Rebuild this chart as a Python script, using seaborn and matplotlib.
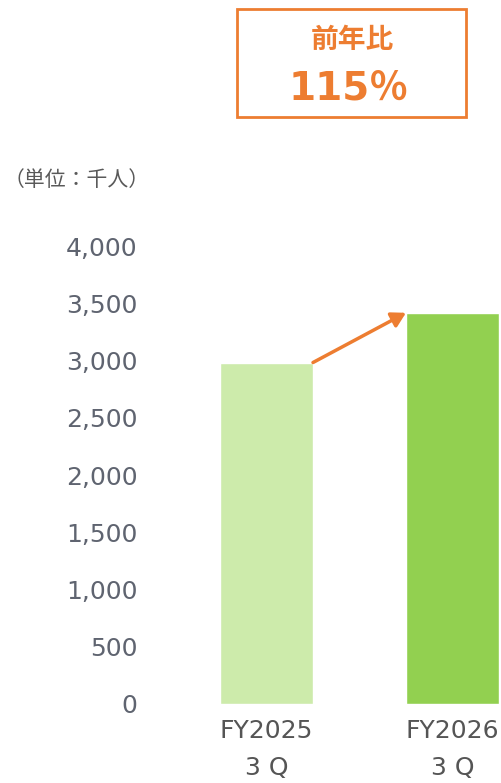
import matplotlib
matplotlib.use("Agg")
import matplotlib.pyplot as plt
import seaborn as sns
import pandas as pd
from matplotlib.patches import Rectangle

categories = ["FY2025\n3 Q", "FY2026\n3 Q"]
values = [2985, 3420]
bar_colors = ["#CDEBAB", "#92D050"]
yticks = [0, 500, 1000, 1500, 2000, 2500, 3000, 3500, 4000]
unit_label = "（単位：千人）"
box_title = "前年比"
box_value = "115％"

sns.set_theme(style="white")
plt.rcParams['font.family'] = ['Noto Sans CJK JP', 'DejaVu Sans']

W, H = 501, 783
fig = plt.figure(figsize=(W / 100, H / 100), dpi=100)
left_px, right_px = 173.5, 501
bottom_px, top_px = 703.7, 246.5
ax = fig.add_axes([left_px / W, (H - bottom_px) / H, (right_px - left_px) / W, (bottom_px - top_px) / H])

df = pd.DataFrame({"cat": categories, "val": values})
sns.barplot(data=df, x="cat", y="val", hue="cat", palette=bar_colors, width=0.5,
            legend=False, ax=ax, saturation=1)

ax.set_xlim(-0.5, 0.5 + (right_px - 359.5) / 186)
ax.set_ylim(0, 4000)
ax.set_yticks(yticks)
ax.set_yticklabels([f"{v:,}" for v in yticks])
ax.set_xlabel("")
ax.set_ylabel("")
for s in ax.spines.values():
    s.set_visible(False)
ax.tick_params(axis="y", length=0, pad=26, labelsize=18, labelcolor="#5F6470")
ax.tick_params(axis="x", length=0, pad=11, labelsize=18, labelcolor="#555555")
for t in ax.get_yticklabels():
    t.set_fontfamily("DejaVu Sans")
for t in ax.get_xticklabels():
    t.set_fontfamily("DejaVu Sans")
    t.set_linespacing(1.7)

# arrow from bar1 top-right to bar2 top-left
ax.annotate("", xy=(0.75, values[1]), xytext=(0.25, values[0]),
            arrowprops=dict(arrowstyle="-|>,head_length=0.7,head_width=0.4",
                            color="#ED7D31", lw=2.5, shrinkA=0, shrinkB=0),
            annotation_clip=False)

# unit label
fig.text(4 / W, 1 - 180 / H, unit_label, fontsize=15, color="#595959", va="center", ha="left")

# ratio box
bx0, by0, bx1, by1 = 237, 9, 466, 117
fig.patches.append(Rectangle((bx0 / W, 1 - by1 / H), (bx1 - bx0) / W, (by1 - by0) / H,
                             transform=fig.transFigure, fill=False, edgecolor="#ED7D31", lw=2))
fig.text(352 / W, 1 - 40 / H, box_title, fontsize=20, color="#ED7D31", weight="bold",
         ha="center", va="center")
fig.text(349 / W, 1 - 88 / H, box_value, fontsize=28, color="#ED7D31", weight="bold",
         ha="center", va="center", family=["DejaVu Sans", "Noto Sans CJK JP"])

fig.savefig("out.png", dpi=100)
